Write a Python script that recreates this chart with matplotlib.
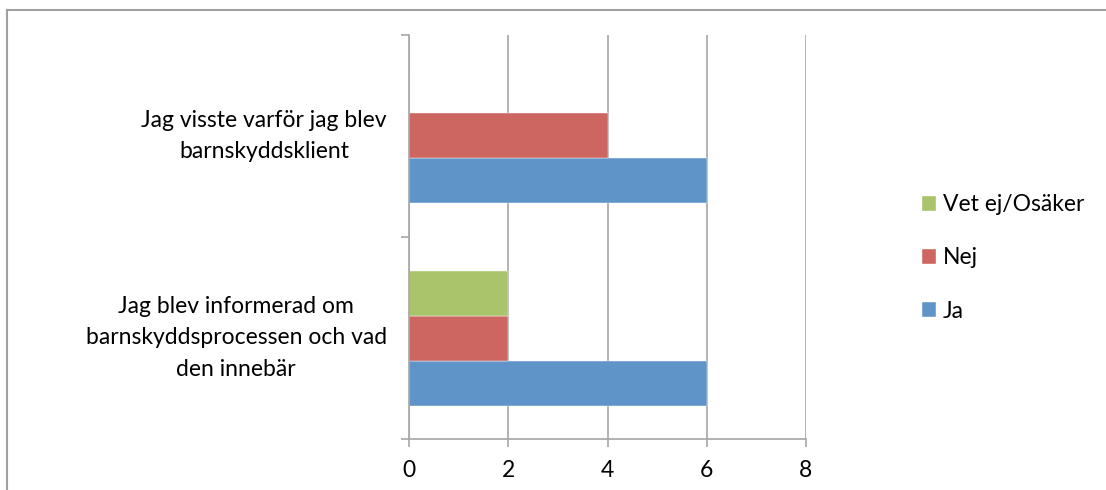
import matplotlib.pyplot as plt
from matplotlib.lines import Line2D
import numpy as np

plt.rcParams['font.family'] = ['Lato', 'DejaVu Sans']

# categories, bottom to top
categories = ["Jag blev informerad om\nbarnskyddsprocessen och vad\nden innebär",
              "Jag visste varför jag blev\nbarnskyddsklient"]
series_names = ["Ja", "Nej", "Vet ej/Osäker"]
ja = [6, 6]
nej = [2, 4]
vet_ej = [2, 0]
x_ticks = [0, 2, 4, 6, 8]

colors = ["#5F94C8", "#CD6560", "#A9C46A"]
grid_col = "#A6A6A6"

fig = plt.figure(figsize=(11.06, 4.9), dpi=100)
# outer chart frame (left and top edges only, the rest runs off the image)
fx, fy = 6.5 / 1106, 1 - 10.5 / 490
fig.add_artist(Line2D([fx, fx], [0, fy], transform=fig.transFigure,
                      color="#A0A0A0", linewidth=1.5))
fig.add_artist(Line2D([fx, 1], [fy, fy], transform=fig.transFigure,
                      color="#A0A0A0", linewidth=1.5))

ax = fig.add_axes([409 / 1106, 1 - 439 / 490, 397 / 1106, 404 / 490])

y = np.arange(len(categories))
h = 45 / 202
for i, (vals, name) in enumerate(zip([ja, nej, vet_ej], series_names)):
    ax.barh(y + (i - 1) * h, vals, height=h, color=colors[i], label=name,
            edgecolor="white", linewidth=0.3, zorder=3)

ax.set_xlim(0, 8)
ax.set_ylim(-0.5, 1.5)
ax.set_xticks(x_ticks)
ax.set_xticklabels([str(t) for t in x_ticks], fontsize=16.5)
ax.set_yticks([-0.5, 0.5, 1.5])
ax.set_yticklabels([])
ax.set_yticks(y, minor=True)
ax.set_yticklabels(categories, minor=True, fontsize=16.5)
for lab in ax.get_yticklabels(minor=True):
    lab.set_multialignment("center")
    lab.set_linespacing(1.6)
    lab.set_verticalalignment("center")

ax.tick_params(axis="y", which="major", length=6, width=1.2, color=grid_col)
ax.tick_params(axis="y", which="minor", length=0, pad=16)
ax.tick_params(axis="x", length=6, width=1.2, color=grid_col, pad=9)

ax.grid(axis="x", color=grid_col, linewidth=1.2, zorder=0)
ax.set_axisbelow(True)
for s in ["top", "right"]:
    ax.spines[s].set_visible(False)
for s in ["left", "bottom"]:
    ax.spines[s].set_color(grid_col)
    ax.spines[s].set_linewidth(1.2)
    ax.spines[s].set_zorder(4)

handles, labels = ax.get_legend_handles_labels()
ax.legend(handles[::-1], labels[::-1], loc="center left",
          bbox_to_anchor=(911 / 1106, 1 - 258 / 490), bbox_transform=fig.transFigure,
          frameon=False, fontsize=16.5, handlelength=0.6, handleheight=0.6,
          handletextpad=0.3, labelspacing=1.4, borderpad=0)

fig.savefig("out.png", dpi=100)
